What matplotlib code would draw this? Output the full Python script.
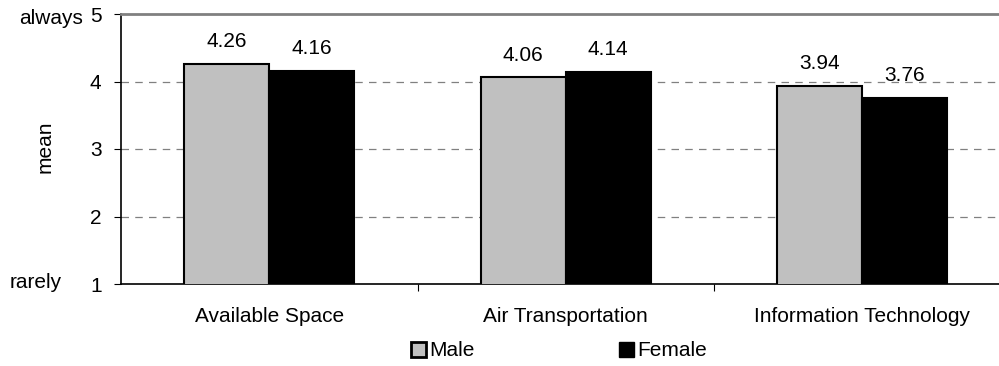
import matplotlib
matplotlib.use('Agg')
import matplotlib.pyplot as plt
import numpy as np
from matplotlib.patches import Patch

plt.rcParams['font.family'] = ['Liberation Sans', 'DejaVu Sans']

categories = ['Available Space', 'Air Transportation', 'Information Technology']
male = [4.26, 4.06, 3.94]
female = [4.16, 4.14, 3.76]
series_names = ['Male', 'Female']

W, H = 999, 366
fs = 15
fig = plt.figure(figsize=(W / 100, H / 100), dpi=100)
ax = fig.add_axes([121 / W, 82 / H, 889.5 / W, 270 / H])

x = np.arange(len(categories))
w = 0.286
bars_m = ax.bar(x - w / 2, male, w, bottom=0, color='#C0C0C0',
                edgecolor='black', linewidth=1.5, zorder=3)
bars_f = ax.bar(x + w / 2, female, w, bottom=0, color='black',
                edgecolor='black', linewidth=1.5, zorder=3)

for bars, vals in [(bars_m, male), (bars_f, female)]:
    for b, v in zip(bars, vals):
        ax.annotate(f'{v:.2f}', (b.get_x() + b.get_width() / 2, v),
                    xytext=(0, 12), textcoords='offset points',
                    ha='center', va='baseline', fontsize=fs)

ax.set_ylim(1, 5)
ax.set_xlim(-0.5, len(categories) - 0.5)
ax.set_yticks([1, 2, 3, 4, 5])
ax.tick_params(axis='y', direction='out', length=5, labelsize=fs, pad=9)
for yv in [2, 3, 4]:
    ax.axhline(yv, color='#808080', linestyle=(0, (6, 5)), linewidth=0.9, zorder=1)

# category separators as x ticks
ax.set_xticks([0.5, 1.5])
ax.set_xticklabels([])
ax.tick_params(axis='x', direction='out', length=5)
for i, c in enumerate(categories):
    ax.annotate(c, (i, 0), xycoords=('data', 'axes fraction'),
                xytext=(0, -38 * 0.72), textcoords='offset points',
                ha='center', va='baseline', fontsize=fs)

ax.spines['top'].set_color('#808080')
ax.spines['top'].set_linewidth(2)
ax.spines['right'].set_visible(False)
ax.spines['left'].set_linewidth(1.2)
ax.spines['bottom'].set_linewidth(1.2)

fig.text(45 / W, 1 - 147 / H, 'mean', rotation=90, ha='center', va='center', fontsize=fs)
fig.text(83 / W, 1 - 19 / H, 'always', ha='right', va='center', fontsize=fs)
fig.text(62 / W, 1 - 282 / H, 'rarely', ha='right', va='center', fontsize=fs)

handles = [Patch(facecolor='#C0C0C0', edgecolor='black', linewidth=2),
           Patch(facecolor='black', edgecolor='black')]
fig.legend(handles, series_names, loc='center', bbox_to_anchor=(559 / W, 1 - 351 / H),
           ncol=2, frameon=False, fontsize=fs, handlelength=0.7, handleheight=0.7,
           handletextpad=0.15, columnspacing=6.95, borderpad=0)

fig.savefig('out.png', dpi=100)
